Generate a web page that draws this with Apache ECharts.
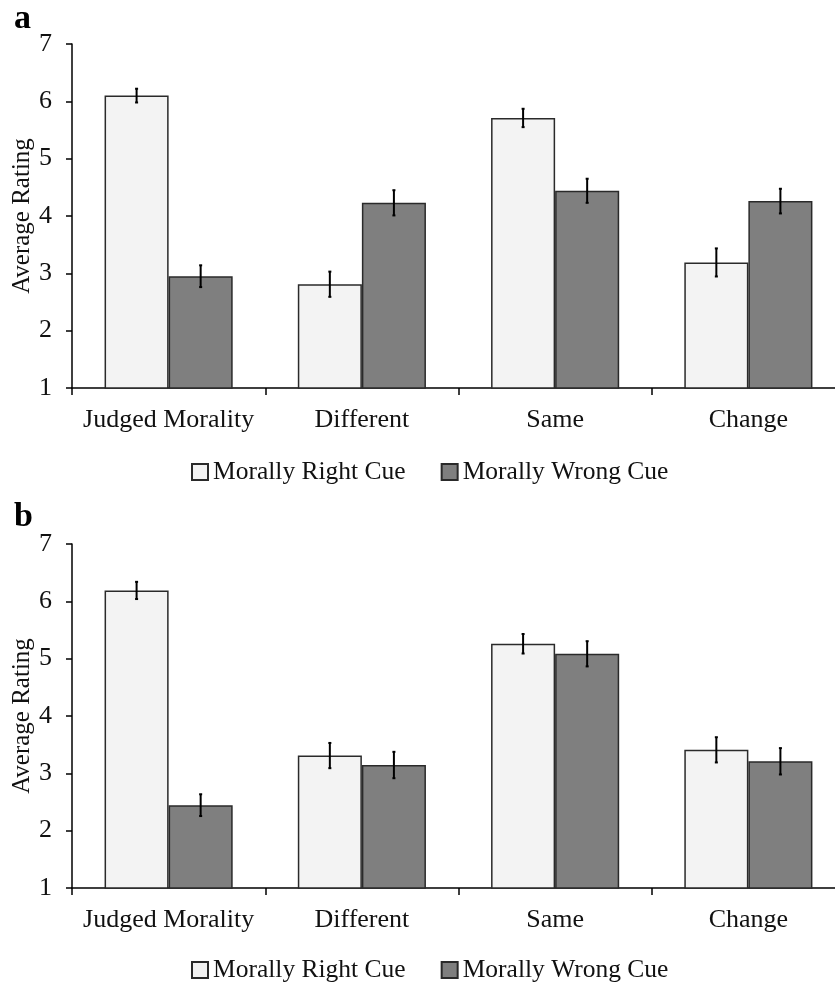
<!DOCTYPE html>
<html>
<head>
<meta charset="utf-8">
<script src="https://cdn.jsdelivr.net/npm/echarts@6/dist/echarts.min.js"></script>
<style>
html,body{margin:0;padding:0;background:#fff;}
#chart{width:835px;height:983px;}
</style>
</head>
<body>
<div id="chart"></div>
<script>
const categories = ['Judged Morality', 'Different', 'Same', 'Change'];
const seriesNames = ['Morally Right Cue', 'Morally Wrong Cue'];
const yTicks = [1, 2, 3, 4, 5, 6, 7];

// Panel a
const aRight    = [6.10, 2.81, 5.71, 3.19];
const aRightErr = [0.12, 0.22, 0.16, 0.245];
const aWrong    = [2.95, 4.23, 4.44, 4.26];
const aWrongErr = [0.19, 0.22, 0.21, 0.215];

// Panel b
const bRight    = [6.19, 3.31, 5.26, 3.41];
const bRightErr = [0.15, 0.22, 0.17, 0.22];
const bWrong    = [2.445, 3.145, 5.085, 3.21];
const bWrongErr = [0.19, 0.23, 0.22, 0.23];

const FONT = "'Liberation Serif', 'Times New Roman', serif";
const CAT_GAP = 0.337;
const lightColor = '#f3f3f3';
const darkColor = '#7f7f7f';
const borderColor = '#2a2a2a';

function errRender(side) {
  return function (params, api) {
    const i = api.value(0), v = api.value(1), e = api.value(2);
    const bw = api.size([1, 0])[0];
    const off = side * bw * (1 - CAT_GAP) / 4;
    const top = api.coord([i, v + e]);
    const bot = api.coord([i, v - e]);
    const x = top[0] + off;
    const st = { stroke: '#000', lineWidth: 2 };
    return {
      type: 'group',
      children: [
        { type: 'line', shape: { x1: x, y1: top[1], x2: x, y2: bot[1] }, style: st },
        { type: 'line', shape: { x1: x - 1.5, y1: top[1], x2: x + 1.5, y2: top[1] }, style: st },
        { type: 'line', shape: { x1: x - 1.5, y1: bot[1], x2: x + 1.5, y2: bot[1] }, style: st }
      ]
    };
  };
}

function errData(vals, errs) {
  return vals.map((v, i) => [i, v, errs[i]]);
}

const grids = [
  { left: 72, top: 44, height: 344, right: -10, containLabel: false, outerBoundsMode: 'none' },
  { left: 72, top: 544, height: 344, right: -10, containLabel: false, outerBoundsMode: 'none' }
];

function makeX(idx) {
  return {
    type: 'category', gridIndex: idx, data: categories,
    axisLine: { lineStyle: { color: '#000', width: 1.5 } },
    axisTick: { show: true, length: 7, interval: 0, lineStyle: { color: '#000', width: 1.5 } },
    axisLabel: { interval: 0, fontFamily: FONT, fontSize: 26, color: '#111', margin: 19, hideOverlap: false }
  };
}
function makeY(idx) {
  return {
    type: 'value', gridIndex: idx, min: yTicks[0], max: yTicks[yTicks.length - 1], interval: 1,
    name: 'Average Rating', nameLocation: 'middle', nameGap: 37, nameRotate: 90,
    nameMoveOverlap: false,
    nameTextStyle: { fontFamily: FONT, fontSize: 25, color: '#111' },
    splitLine: { show: false },
    axisLine: { show: true, lineStyle: { color: '#000', width: 1.5 } },
    axisTick: { show: true, length: 6, lineStyle: { color: '#000', width: 1.5 } },
    axisLabel: { fontFamily: FONT, fontSize: 26, color: '#111', margin: 20 }
  };
}

function barSeries(name, data, idx, color) {
  return {
    name: name, type: 'bar', xAxisIndex: idx, yAxisIndex: idx, data: data,
    barGap: '0%', barCategoryGap: (CAT_GAP * 100) + '%',
    itemStyle: { color: color, borderColor: borderColor, borderWidth: 1.5 },
    emphasis: { disabled: true }
  };
}
function errSeries(vals, errs, idx, side) {
  return {
    type: 'custom', xAxisIndex: idx, yAxisIndex: idx, z: 10,
    renderItem: errRender(side), data: errData(vals, errs), silent: true
  };
}

function makeLegend(top) {
  return {
    top: top, left: 186, itemGap: 35, itemWidth: 16, itemHeight: 16, icon: 'rect',
    selectedMode: false,
    textStyle: { fontFamily: FONT, fontSize: 25.5, color: '#111' },
    data: seriesNames
  };
}

const option = {
  animation: false,
  backgroundColor: '#fff',
  grid: grids,
  xAxis: [makeX(0), makeX(1)],
  yAxis: [makeY(0), makeY(1)],
  legend: [makeLegend(454), makeLegend(952)],
  graphic: [
    { type: 'text', left: 14, top: 2, style: { text: 'a', font: "bold 34px " + FONT, fill: '#000' } },
    { type: 'text', left: 14, top: 500, style: { text: 'b', font: "bold 34px " + FONT, fill: '#000' } }
  ],
  series: [
    barSeries(seriesNames[0], aRight, 0, lightColor),
    barSeries(seriesNames[1], aWrong, 0, darkColor),
    barSeries(seriesNames[0], bRight, 1, lightColor),
    barSeries(seriesNames[1], bWrong, 1, darkColor),
    errSeries(aRight, aRightErr, 0, -1),
    errSeries(aWrong, aWrongErr, 0, 1),
    errSeries(bRight, bRightErr, 1, -1),
    errSeries(bWrong, bWrongErr, 1, 1)
  ]
};

const chart = echarts.init(document.getElementById('chart'), null, { renderer: 'canvas' });
chart.setOption(option);
</script>
</body>
</html>
